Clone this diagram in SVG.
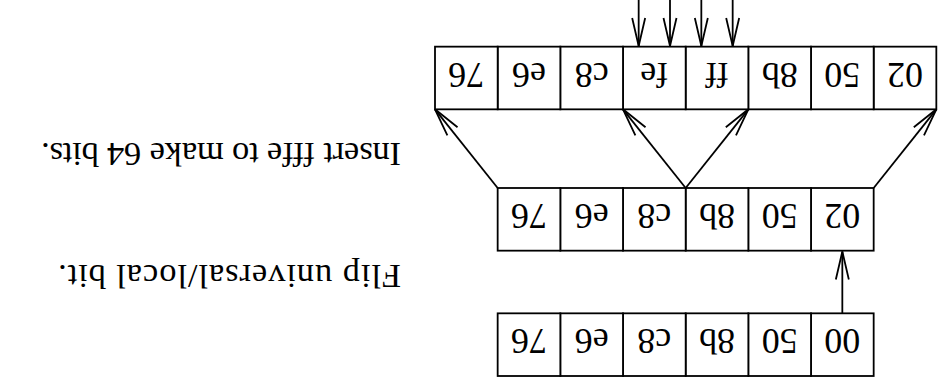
<svg xmlns="http://www.w3.org/2000/svg" width="942" height="383" viewBox="0 0 942 383">
  <style>
    text { font-variant-ligatures: none; }
    .box { fill: #fff; stroke: #000; stroke-width: 1.8; }
    .lbl { font-family: "Liberation Serif", "Times New Roman", serif; font-size: 36px; text-anchor: middle; fill: #000; }
    .cap { font-family: "Liberation Serif", "Times New Roman", serif; font-size: 34.5px; fill: #000; }
    .edge { fill: none; stroke: #000; stroke-width: 1.8; marker-end: url(#head); }
  </style>
  <defs>
    <marker id="head" markerUnits="userSpaceOnUse" viewBox="-30 -8 32 16" markerWidth="32" markerHeight="16" refX="0" refY="0" orient="auto" overflow="visible">
      <path d="M-28,-6.5 L0,0 L-28,6.5" fill="none" stroke="#000" stroke-width="1.8"/>
    </marker>
  </defs>
  <rect width="942" height="383" fill="#fff"/>
  <!-- whole figure is drawn upside down -->
  <g transform="rotate(180 471 191.5)">
    <g id="connectors">
      <line class="edge" x1="99.67" y1="69.67" x2="99.67" y2="131.5"/>
      <line class="edge" x1="68.33" y1="195" x2="5.67" y2="273.67"/>
      <line class="edge" x1="256.33" y1="195" x2="193.67" y2="273.67"/>
      <line class="edge" x1="256.33" y1="195" x2="319" y2="273.67"/>
      <line class="edge" x1="444.33" y1="195" x2="507" y2="273.67"/>
      <line class="edge" x1="209.33" y1="395" x2="209.33" y2="337"/>
      <line class="edge" x1="240.67" y1="395" x2="240.67" y2="337"/>
      <line class="edge" x1="272" y1="395" x2="272" y2="337"/>
      <line class="edge" x1="303.33" y1="395" x2="303.33" y2="337"/>
    </g>
    <g id="mac48">
      <rect class="box" x="68.33" y="7" width="62.67" height="62.67"/>
      <rect class="box" x="131" y="7" width="62.67" height="62.67"/>
      <rect class="box" x="193.67" y="7" width="62.67" height="62.67"/>
      <rect class="box" x="256.33" y="7" width="62.67" height="62.67"/>
      <rect class="box" x="319" y="7" width="62.67" height="62.67"/>
      <rect class="box" x="381.67" y="7" width="62.67" height="62.67"/>
      <text class="lbl" x="99.67" y="54">00</text>
      <text class="lbl" x="162.33" y="54">50</text>
      <text class="lbl" x="225" y="54">8b</text>
      <text class="lbl" x="287.67" y="54">c8</text>
      <text class="lbl" x="350.33" y="54">e6</text>
      <text class="lbl" x="413" y="54">76</text>
    </g>
    <g id="flipped">
      <rect class="box" x="68.33" y="132.33" width="62.67" height="62.67"/>
      <rect class="box" x="131" y="132.33" width="62.67" height="62.67"/>
      <rect class="box" x="193.67" y="132.33" width="62.67" height="62.67"/>
      <rect class="box" x="256.33" y="132.33" width="62.67" height="62.67"/>
      <rect class="box" x="319" y="132.33" width="62.67" height="62.67"/>
      <rect class="box" x="381.67" y="132.33" width="62.67" height="62.67"/>
      <text class="lbl" x="99.67" y="179.3">02</text>
      <text class="lbl" x="162.33" y="179.3">50</text>
      <text class="lbl" x="225" y="179.3">8b</text>
      <text class="lbl" x="287.67" y="179.3">c8</text>
      <text class="lbl" x="350.33" y="179.3">e6</text>
      <text class="lbl" x="413" y="179.3">76</text>
    </g>
    <g id="eui64">
      <rect class="box" x="5.67" y="273.67" width="62.67" height="62.67"/>
      <rect class="box" x="68.33" y="273.67" width="62.67" height="62.67"/>
      <rect class="box" x="131" y="273.67" width="62.67" height="62.67"/>
      <rect class="box" x="193.67" y="273.67" width="62.67" height="62.67"/>
      <rect class="box" x="256.33" y="273.67" width="62.67" height="62.67"/>
      <rect class="box" x="319" y="273.67" width="62.67" height="62.67"/>
      <rect class="box" x="381.67" y="273.67" width="62.67" height="62.67"/>
      <rect class="box" x="444.33" y="273.67" width="62.67" height="62.67"/>
      <text class="lbl" x="37" y="320.3">02</text>
      <text class="lbl" x="99.67" y="320.3">50</text>
      <text class="lbl" x="162.33" y="320.3">8b</text>
      <text class="lbl" x="225" y="320.3">ff</text>
      <text class="lbl" x="287.67" y="320.3">fe</text>
      <text class="lbl" x="350.33" y="320.3">c8</text>
      <text class="lbl" x="413" y="320.3">e6</text>
      <text class="lbl" x="475.67" y="320.3">76</text>
    </g>
    <g id="captions">
      <text class="cap" x="541" y="118" textLength="343" lengthAdjust="spacing">Flip universal/local bit.</text>
      <text class="cap" x="541" y="240" textLength="360" lengthAdjust="spacing">Insert fffe to make 64 bits.</text>
    </g>
  </g>
</svg>
